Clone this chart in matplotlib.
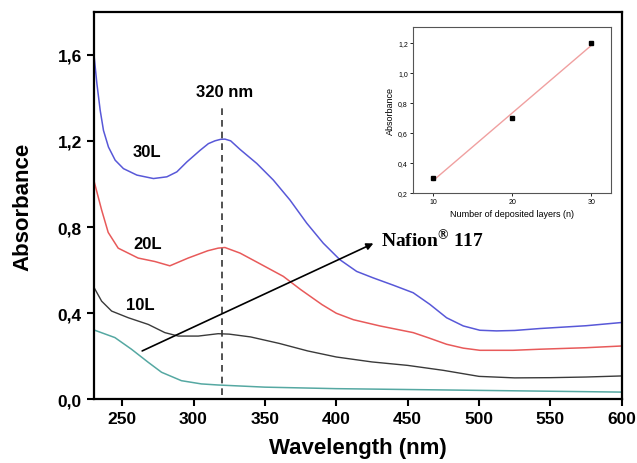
import numpy as np
import matplotlib
matplotlib.use("Agg")
import matplotlib.pyplot as plt

plt.rcParams["font.family"] = ["Liberation Sans", "DejaVu Sans"]
plt.rcParams["mathtext.default"] = "regular"

# spectra (wavelength nm, absorbance)
wl_30 = [230, 232.3, 234.6, 236.9, 240.4, 245.1, 250.9, 260.3, 271.9, 281.3,
         288.3, 295.3, 304.6, 310.4, 315, 319, 322, 326, 332.6, 344.3, 355.9,
         367.6, 379.3, 390.9, 402.6, 414.3, 425.9, 440, 453.9, 465.6, 477.3,
         489, 500.6, 512.3, 525, 542.6, 575, 600]
abs_30 = [1.615, 1.464, 1.341, 1.248, 1.171, 1.11, 1.071, 1.041, 1.025, 1.033,
          1.056, 1.102, 1.156, 1.187, 1.2, 1.207, 1.208, 1.2, 1.16, 1.095,
          1.018, 0.925, 0.818, 0.725, 0.648, 0.594, 0.564, 0.53, 0.495, 0.441,
          0.379, 0.341, 0.321, 0.318, 0.32, 0.329, 0.342, 0.357]

wl_20 = [230.4, 235.6, 240.2, 247.2, 261.2, 272.9, 283.4, 296.2, 310, 317.2,
         322, 332.6, 345, 362.9, 375, 390, 400, 412, 430.6, 453.9, 465, 477.3,
         489, 500.6, 523.9, 542.6, 575, 600]
abs_20 = [1.010, 0.879, 0.775, 0.702, 0.656, 0.640, 0.620, 0.656, 0.69, 0.702,
          0.705, 0.679, 0.635, 0.571, 0.51, 0.44, 0.40, 0.37, 0.341, 0.31,
          0.285, 0.256, 0.238, 0.228, 0.228, 0.233, 0.24, 0.248]

wl_10 = [230.4, 235.6, 242.6, 254.3, 268.3, 279.9, 289.3, 303.3, 317.2, 325,
         340, 360, 380, 400, 425, 450, 475, 500, 525, 550, 575, 600]
abs_10 = [0.518, 0.456, 0.41, 0.379, 0.348, 0.31, 0.294, 0.294, 0.305, 0.303,
          0.29, 0.26, 0.225, 0.197, 0.174, 0.158, 0.135, 0.107, 0.10, 0.101,
          0.104, 0.109]

wl_naf = [230.4, 244.9, 256.5, 268.3, 277.6, 291.5, 305.5, 317.2, 350, 400,
          450, 500, 550, 600]
abs_naf = [0.322, 0.287, 0.233, 0.172, 0.126, 0.087, 0.072, 0.067, 0.057,
           0.05, 0.046, 0.042, 0.038, 0.034]

# inset: absorbance at 320 nm vs number of layers
layers = [10, 20, 30]
abs_320 = [0.30, 0.70, 1.20]

fig = plt.figure(figsize=(6.37, 4.64), dpi=100)
ax = fig.add_axes([0.147, 0.137, 0.829, 0.836])

ax.plot(wl_30, abs_30, color="#5858d8", lw=1.1)
ax.plot(wl_20, abs_20, color="#e85a5a", lw=1.1)
ax.plot(wl_10, abs_10, color="#3a3a3a", lw=1.0)
ax.plot(wl_naf, abs_naf, color="#55a8a2", lw=1.1)

ax.vlines(320, 0.02, 1.37, colors="#333333", linestyles=(0, (4, 3)), lw=1.2)

ax.text(322, 1.43, "320 nm", fontsize=12, fontweight="bold", ha="center", va="center")
ax.text(267, 1.15, "30L", fontsize=12, fontweight="bold", ha="center", va="center")
ax.text(268, 0.725, "20L", fontsize=12, fontweight="bold", ha="center", va="center")
ax.text(263, 0.44, "10L", fontsize=12, fontweight="bold", ha="center", va="center")

ax.annotate("", xy=(426, 0.724), xytext=(264, 0.225),
            arrowprops=dict(arrowstyle="-|>", color="black", lw=1.2,
                            mutation_scale=10, shrinkA=0, shrinkB=0))
ax.text(431, 0.745, r"Nafion$^{®}$ 117", fontsize=14, fontweight="bold",
        family="Liberation Serif", ha="left", va="center")

ax.set_xlim(230, 600)
ax.set_ylim(0, 1.8)
ax.set_xticks([250, 300, 350, 400, 450, 500, 550, 600])
ax.set_yticks([0, 0.4, 0.8, 1.2, 1.6])
ax.set_yticklabels(["0,0", "0,4", "0,8", "1,2", "1,6"])
ax.tick_params(labelsize=12.5, width=1.5, length=5, direction="out")
for lab in ax.get_xticklabels() + ax.get_yticklabels():
    lab.set_fontweight("bold")
for sp in ax.spines.values():
    sp.set_linewidth(1.6)

ax.set_xlabel("Wavelength (nm)", fontsize=16, fontweight="bold", labelpad=8)
ax.set_ylabel("Absorbance", fontsize=16, fontweight="bold", labelpad=17)

# inset
ins = fig.add_axes([0.648, 0.582, 0.311, 0.357])
slope, icpt = np.polyfit(layers, abs_320, 1)
xfit = np.array([layers[0], layers[-1]])
ins.plot(xfit, slope * xfit + icpt, color="#f0a0a0", lw=1.0)
ins.plot(layers, abs_320, "s", color="black", ms=3)
ins.set_xlim(7.4, 32.5)
ins.set_ylim(0.2, 1.305)
ins.set_xticks(layers)
ins.set_yticks([0.2, 0.4, 0.6, 0.8, 1.0, 1.2])
ins.set_yticklabels(["0,2", "0,4", "0,6", "0,8", "1,0", "1,2"])
ins.tick_params(labelsize=5, width=0.6, length=2, pad=1.5)
for sp in ins.spines.values():
    sp.set_linewidth(0.8)
    sp.set_color("#555555")
ins.set_xlabel("Number of deposited layers (n)", fontsize=6.5, labelpad=3)
ins.set_ylabel("Absorbance", fontsize=6.5, labelpad=2)

fig.savefig("out.png", dpi=100)
